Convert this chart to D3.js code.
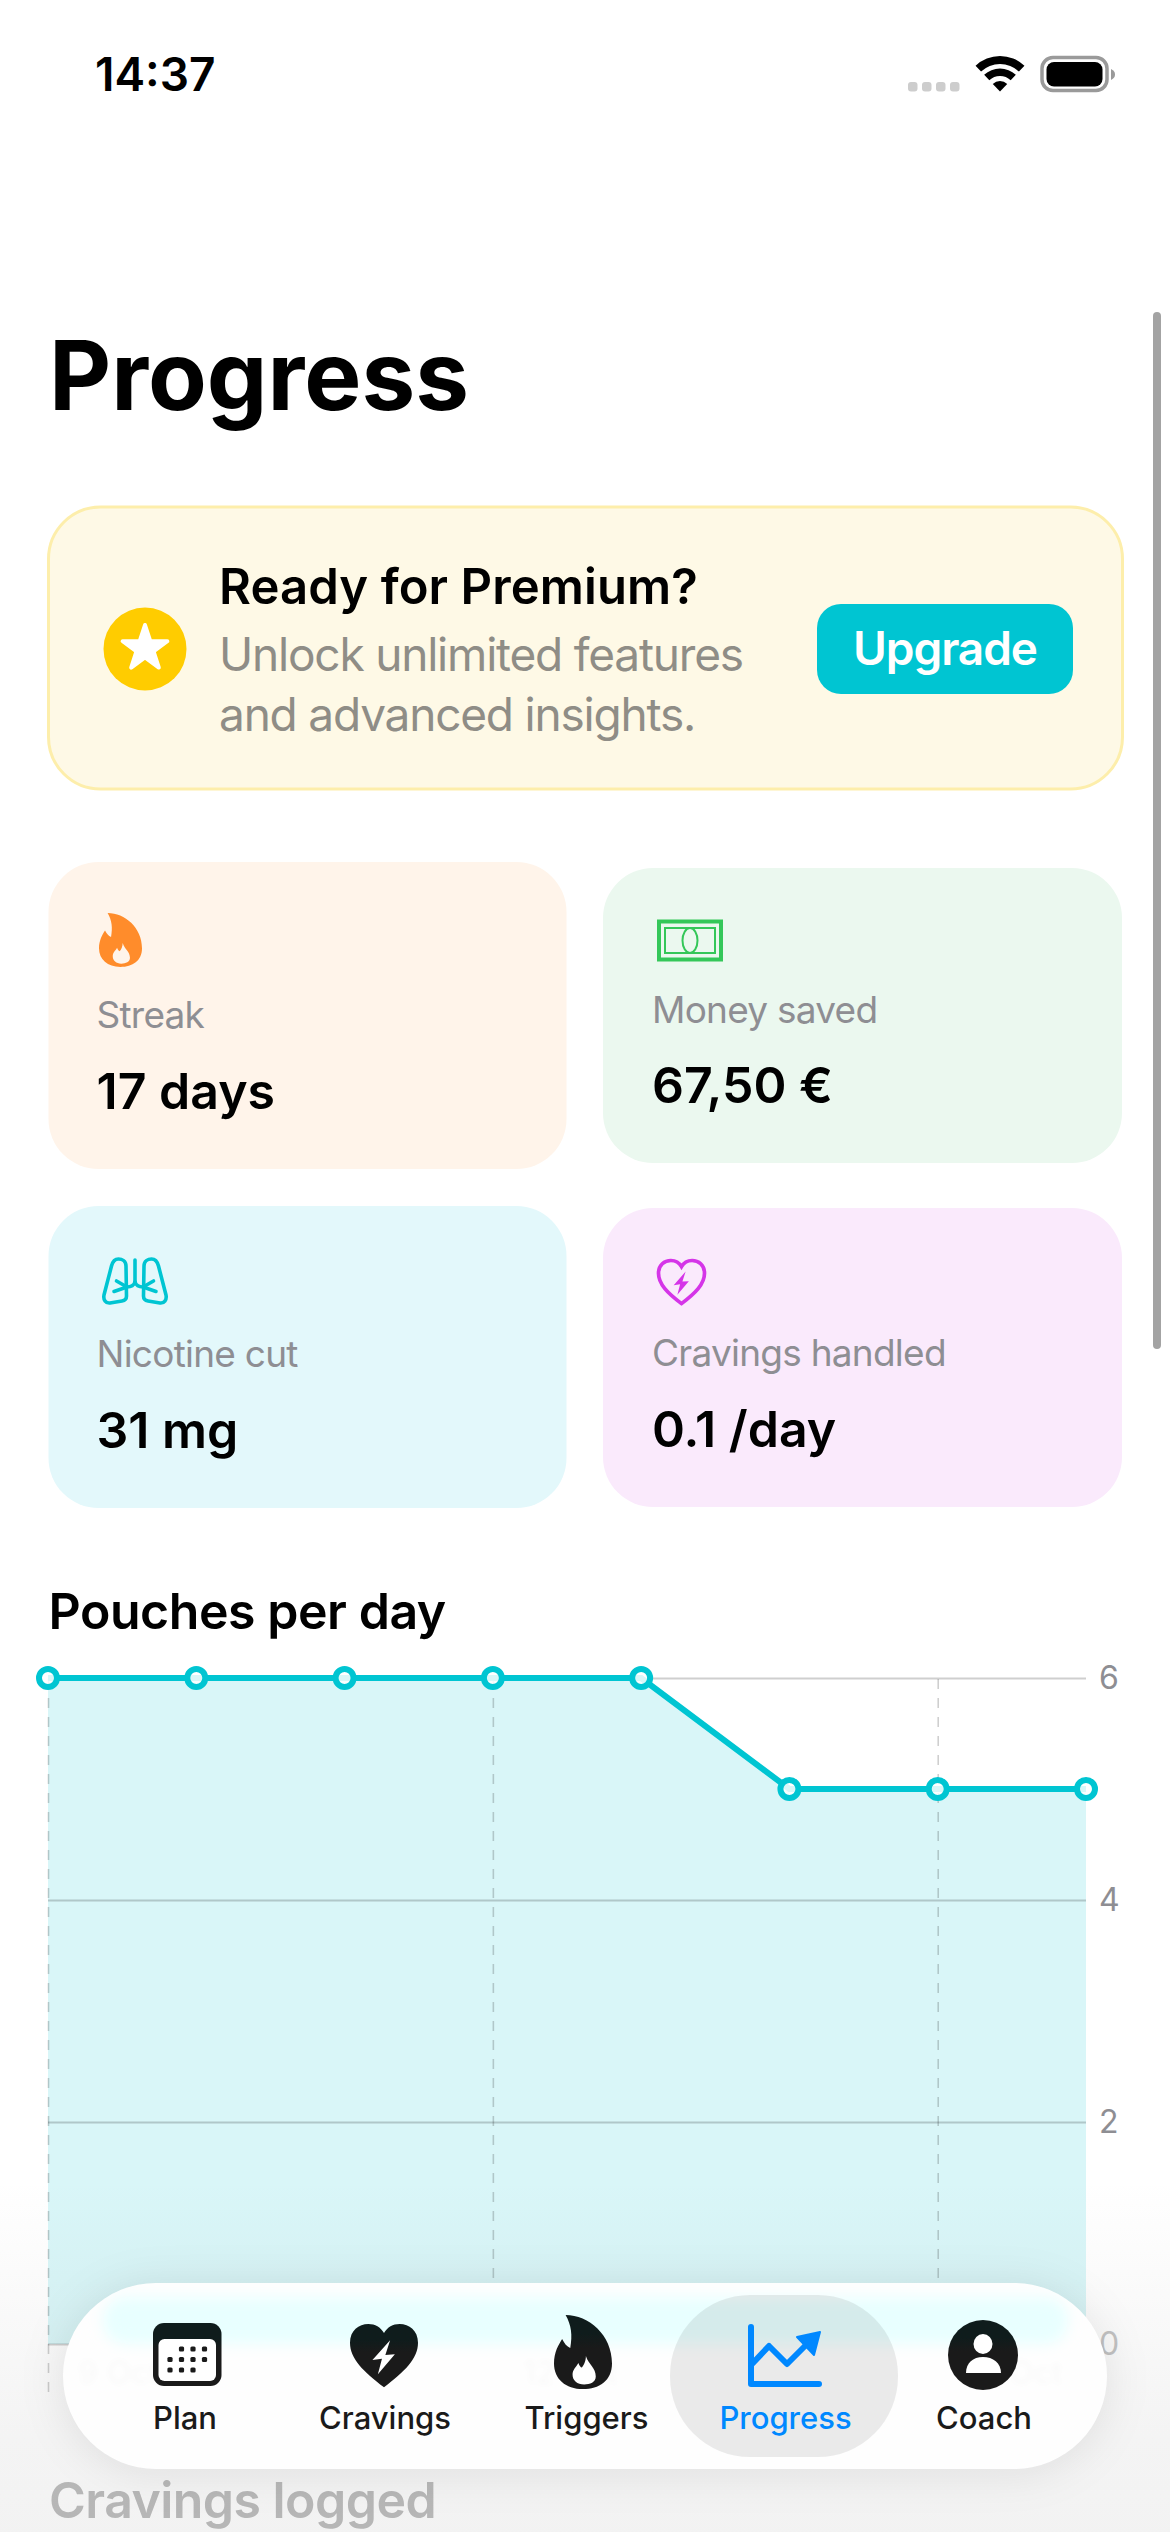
<!DOCTYPE html>
<html>
<head>
<meta charset="utf-8">
<title>Progress</title>
<script src="https://cdn.jsdelivr.net/npm/d3@7"></script>
<style>
  html, body { margin: 0; padding: 0; background: #fff; }
  svg { display: block; }
  text { font-family: Inter, "Noto Sans", sans-serif; }
</style>
</head>
<body>
<script>
// chart data
var days = [0, 1, 2, 3, 4, 5, 6, 7];
var pouches = [6, 6, 6, 6, 6, 5, 5, 5];
var yTicks = [0, 2, 4, 6];
var xTicks = [0, 3, 6];
var xTickLabels = ["9 Oct", "12 Oct", "15 Oct"];

var statLabels = ["Streak", "Money saved", "Nicotine cut", "Cravings handled"];
var statValues = ["17 days", "67,50 €", "31 mg", "0.1 /day"];
var tabLabels = ["Plan", "Cravings", "Triggers", "Progress", "Coach"];

var w = 1170;
var h = 2532;
var teal = "#00c5d2";
var grey = "#8e8e93";

var svg = d3.select("body").append("svg")
  .attr("width", w)
  .attr("height", h)
  .attr("viewBox", "0 0 " + w + " " + h);

var defs = svg.append("defs");

function label(parent, str, x, y, size, weight, fill, anchor) {
  return parent.append("text")
    .text(str)
    .attr("x", x)
    .attr("y", y)
    .attr("font-size", size)
    .attr("font-weight", weight)
    .attr("fill", fill)
    .attr("text-anchor", anchor || "start");
}

function blur(id, dev) {
  defs.append("filter")
    .attr("id", id)
    .attr("x", "-30%").attr("y", "-60%")
    .attr("width", "160%").attr("height", "220%")
    .append("feGaussianBlur")
    .attr("stdDeviation", dev);
}
blur("soft", 7);
blur("wash", 3);
blur("shadow", 22);

// status bar
label(svg, "14:37", 95, 91, 46, 600, "#000");
svg.selectAll(".signal").data([0, 1, 2, 3]).enter().append("rect")
  .attr("class", "signal")
  .attr("x", function(d) { return 908 + d * 14; })
  .attr("y", 82)
  .attr("width", 9.5)
  .attr("height", 9.5)
  .attr("rx", 3)
  .attr("fill", "#cdcdcd");

var wifi = svg.append("g").attr("transform", "translate(1000,91.5)");
[[0, 10.5], [15.5, 23], [27.5, 35.5]].forEach(function(r) {
  wifi.append("path")
    .attr("d", d3.arc().innerRadius(r[0]).outerRadius(r[1]).startAngle(-0.76).endAngle(0.76)())
    .attr("fill", "#000");
});

svg.append("rect").attr("x", 1042).attr("y", 57.5).attr("width", 65).attr("height", 33)
  .attr("rx", 11).attr("fill", "none").attr("stroke", "#9a9a9a").attr("stroke-width", 3.5);
svg.append("rect").attr("x", 1046.5).attr("y", 62).attr("width", 56).attr("height", 24.5)
  .attr("rx", 7.5).attr("fill", "#000");
svg.append("path").attr("d", "M1111 69 C1114 71 1115 72 1115 74.5 C1115 77 1114 78 1111 80 Z").attr("fill", "#9a9a9a");

// scroll indicator
svg.append("rect").attr("x", 1153).attr("y", 312).attr("width", 8).attr("height", 1037)
  .attr("rx", 4).attr("fill", "#a3a3a3");

label(svg, "Progress", 49, 410, 96, 700, "#000");

// premium banner
svg.append("rect").attr("x", 48.5).attr("y", 507).attr("width", 1074).attr("height", 282)
  .attr("rx", 52).attr("fill", "#fef9e6").attr("stroke", "#fdeeab").attr("stroke-width", 3);
svg.append("circle").attr("cx", 145).attr("cy", 649).attr("r", 41.5).attr("fill", "#ffcc00");
svg.append("path")
  .attr("d", d3.symbol().type(d3.symbolStar).size(620)())
  .attr("transform", "translate(145,648.5)")
  .attr("fill", "#fff").attr("stroke", "#fff").attr("stroke-width", 4).attr("stroke-linejoin", "round");
label(svg, "Ready for Premium?", 219, 604, 49, 600, "#000").attr("letter-spacing", 0.1);
label(svg, "Unlock unlimited features", 219, 671, 46, 400, "#8f8d86").attr("letter-spacing", -1.2);
label(svg, "and advanced insights.", 219, 731, 46, 400, "#8f8d86").attr("letter-spacing", -1.2);
svg.append("rect").attr("x", 817).attr("y", 604).attr("width", 256).attr("height", 90)
  .attr("rx", 24).attr("fill", "#00c5d2");
label(svg, "Upgrade", 945, 665, 46, 600, "#fff", "middle").attr("letter-spacing", -1.1);

// stat cards
var cardBoxes = [
  { x: 48.5, y: 862, w: 518, h: 307, fill: "#fff4ea" },
  { x: 603, y: 868, w: 519, h: 295, fill: "#ebf8ef" },
  { x: 48.5, y: 1206, w: 518, h: 302, fill: "#e3f8fb" },
  { x: 603, y: 1208, w: 519, h: 299, fill: "#faeafc" }
];
var labelBase = [1028, 1023, 1367, 1366];
var valueBase = [1109, 1103, 1448, 1447];

cardBoxes.forEach(function(c, i) {
  svg.append("rect").attr("x", c.x).attr("y", c.y).attr("width", c.w).attr("height", c.h)
    .attr("rx", 50).attr("fill", c.fill);
  var tx = i % 2 === 0 ? 96.5 : 652;
  label(svg, statLabels[i], tx, labelBase[i], 37, 400, grey).attr("letter-spacing", -0.75);
  label(svg, statValues[i], tx, valueBase[i], 50, 600, "#000");
});

// icon outlines, drawn in a 100 wide box
var flameOuter = "M20 0 C60 0 100 35 100 85 C100 115 78 130 50 130 C20 130 0 112 0 85 C0 65 8 52 14 42 C18 50 22 55 28 58 C32 35 30 18 20 0 Z";
var flameInner = "M55 72 C60 88 72 92 72 108 C72 118 62 122 52 122 C40 122 32 115 32 105 C32 95 38 92 42 84 C44 89 46 92 48 92 C52 88 55 80 55 72 Z";
var heart = "M50 98 C20 74 0 54 0 29 C0 10 13 0 27 0 C37 0 45 5 50 14 C55 5 63 0 73 0 C87 0 100 10 100 29 C100 54 80 74 50 98 Z";
var bolt = "M59 25 L33 56 L47 54 L41 78 L66 47 L52 48 Z";

var streakIcon = svg.append("g").attr("transform", "translate(99,913) scale(0.43,0.415)");
streakIcon.append("path").attr("d", flameOuter).attr("fill", "#ff8c2b");
streakIcon.append("path").attr("d", flameInner).attr("fill", "#fff4ea");

var money = svg.append("g").attr("fill", "none").attr("stroke", "#34c759");
money.append("rect").attr("x", 659).attr("y", 921.5).attr("width", 62).attr("height", 38).attr("stroke-width", 4);
money.append("rect").attr("x", 665).attr("y", 928).attr("width", 50).attr("height", 25).attr("stroke-width", 2);
money.append("ellipse").attr("cx", 690).attr("cy", 940.5).attr("rx", 7.5).attr("ry", 12.5).attr("stroke-width", 2);

var lungs = svg.append("g").attr("fill", "none").attr("stroke", "#00c5d2").attr("stroke-width", 3.6)
  .attr("stroke-linecap", "round").attr("stroke-linejoin", "round");
var lung = "M126 1266 C126 1261 122 1259 118.5 1259 C114.5 1259 112.5 1262 111.5 1266 L104 1295 C103 1300 106 1303.5 110 1303 L122 1301 C125 1300.5 126.5 1299 126.5 1296 Z";
var bronchi = "M135 1282 C134 1285 131 1287 127 1287 L114 1291.5 M127 1287 L116.5 1281";
lungs.append("path").attr("d", "M135 1260 L135 1282");
[lung, bronchi].forEach(function(p) {
  lungs.append("path").attr("d", p);
  lungs.append("path").attr("d", p).attr("transform", "translate(270,0) scale(-1,1)");
});

var cravingIcon = svg.append("g").attr("transform", "translate(658.5,1260.5) scale(0.46,0.44)");
cravingIcon.append("path").attr("d", heart).attr("fill", "none").attr("stroke", "#d535e8").attr("stroke-width", 8);
cravingIcon.append("path").attr("d", bolt).attr("fill", "#d535e8");

// pouches per day chart
label(svg, "Pouches per day", 48.5, 1629, 50, 600, "#000").attr("letter-spacing", -0.45);

var x = d3.scaleLinear().domain([0, 7]).range([48, 1086]);
var y = d3.scaleLinear().domain([0, 6]).range([2344, 1678]);
var chartData = days.map(function(d, i) { return { day: d, value: pouches[i] }; });

svg.append("path")
  .datum(chartData)
  .attr("d", d3.area()
    .x(function(d) { return x(d.day); })
    .y0(y(0))
    .y1(function(d) { return y(d.value); }))
  .attr("fill", teal)
  .attr("fill-opacity", 0.15);

// horizontal grid and value labels on the right
var yAxis = svg.append("g")
  .attr("transform", "translate(1086,0)")
  .call(d3.axisRight(y).tickValues(yTicks).tickSize(-1038).tickPadding(13).tickFormat(d3.format("d")));
yAxis.select(".domain").remove();
yAxis.selectAll("line").attr("stroke", "#000").attr("stroke-opacity", 0.19).attr("stroke-width", 2);
yAxis.selectAll("text").attr("font-size", 32).attr("font-family", "Inter").attr("fill", grey);
yAxis.selectAll(".tick").filter(function(d) { return d === 0; }).select("text").attr("fill", "#c4c4c4");

// dashed day grid, runs on below the baseline
var xAxis = svg.append("g")
  .attr("transform", "translate(0,2392)")
  .call(d3.axisBottom(x).tickValues(xTicks).tickSize(-714).tickFormat(""));
xAxis.select(".domain").remove();
xAxis.selectAll("line").attr("stroke", "#000").attr("stroke-opacity", 0.19)
  .attr("stroke-width", 1.6).attr("stroke-dasharray", "10 9");

svg.append("path")
  .datum(chartData)
  .attr("d", d3.line()
    .x(function(d) { return x(d.day); })
    .y(function(d) { return y(d.value); }))
  .attr("fill", "none")
  .attr("stroke", teal)
  .attr("stroke-width", 6);

svg.selectAll(".dot")
  .data(chartData)
  .enter()
  .append("circle")
  .attr("class", "dot")
  .attr("cx", function(d) { return x(d.day); })
  .attr("cy", function(d) { return y(d.value); })
  .attr("r", 9)
  .attr("fill", "#fff")
  .attr("fill-opacity", 0.85)
  .attr("stroke", teal)
  .attr("stroke-width", 6);

label(svg, "Cravings logged", 49, 2518, 50, 600, "#bcbcbc").attr("letter-spacing", -0.55);

// fade under the floating tab bar
var fade = defs.append("linearGradient").attr("id", "fade")
  .attr("x1", 0).attr("x2", 0).attr("y1", 0).attr("y2", 1);
fade.append("stop").attr("offset", 0).attr("stop-color", "#808080").attr("stop-opacity", 0);
fade.append("stop").attr("offset", 0.7).attr("stop-color", "#808080").attr("stop-opacity", 0.085);
fade.append("stop").attr("offset", 1).attr("stop-color", "#808080").attr("stop-opacity", 0.1);
svg.append("rect").attr("x", 0).attr("y", 2180).attr("width", w).attr("height", 352).attr("fill", "url(#fade)");

// tab bar
svg.append("rect").attr("x", 63).attr("y", 2286).attr("width", 1044).attr("height", 186)
  .attr("rx", 93).attr("fill", "#000").attr("fill-opacity", 0.09).attr("filter", "url(#shadow)");
svg.append("rect").attr("x", 63).attr("y", 2283).attr("width", 1044).attr("height", 186)
  .attr("rx", 93).attr("fill", "#fefefe");

defs.append("clipPath").attr("id", "barClip").append("rect")
  .attr("x", 63).attr("y", 2283).attr("width", 1044).attr("height", 186).attr("rx", 93);
var bar = svg.append("g").attr("clip-path", "url(#barClip)");
bar.append("rect").attr("x", 103).attr("y", 2297).attr("width", 965).attr("height", 47)
  .attr("rx", 22).attr("fill", "#e8ffff").attr("filter", "url(#soft)");

// the axis dates only show as a smudge through the glass
var tickLabelGroup = bar.append("g").attr("filter", "url(#wash)").attr("opacity", 0.025);
xTicks.forEach(function(t, i) {
  label(tickLabelGroup, xTickLabels[i], x(t) + 30, 2384, 32, 400, "#000");
});

// selected tab
svg.append("rect").attr("x", 670).attr("y", 2295).attr("width", 228).attr("height", 162)
  .attr("rx", 80).attr("fill", "#000").attr("fill-opacity", 0.078);

// dark icons pick up a tint where the chart sits behind the bar
var iconFill = defs.append("linearGradient").attr("id", "iconFill")
  .attr("x1", 0).attr("x2", 0).attr("y1", 0).attr("y2", 1);
iconFill.append("stop").attr("offset", 0.25).attr("stop-color", "#0f1c1c");
iconFill.append("stop").attr("offset", 0.45).attr("stop-color", "#1a1a1a");

var tabX = [185, 385, 586.5, 785.5, 984];
tabLabels.forEach(function(t, i) {
  label(svg, t, tabX[i], 2429, 31, 500, i === 3 ? "#0088ff" : "#1a1a1a", "middle");
});

// plan icon
svg.append("rect").attr("x", 153).attr("y", 2323).attr("width", 68.5).attr("height", 63)
  .attr("rx", 11).attr("fill", "url(#iconFill)");
svg.append("rect").attr("x", 158.5).attr("y", 2339).attr("width", 57.5).attr("height", 42)
  .attr("rx", 6).attr("fill", "#fff");
var calDots = [[181.5, 2349], [193, 2349], [204.5, 2349],
  [170, 2359.5], [181.5, 2359.5], [193, 2359.5], [204.5, 2359.5],
  [170, 2370], [181.5, 2370], [193, 2370]];
calDots.forEach(function(p) {
  svg.append("rect").attr("x", p[0] - 2.6).attr("y", p[1] - 2.6).attr("width", 5.2).attr("height", 5.2)
    .attr("rx", 1.5).attr("fill", "#1a1a1a");
});

// cravings icon
var cravingTab = svg.append("g").attr("transform", "translate(350,2324) scale(0.68,0.645)");
cravingTab.append("path").attr("d", heart).attr("fill", "url(#iconFill)");
cravingTab.append("path").attr("d", bolt).attr("fill", "#fff");

// triggers icon
var triggerTab = svg.append("g").attr("transform", "translate(554,2315) scale(0.58,0.57)");
triggerTab.append("path").attr("d", flameOuter).attr("fill", "url(#iconFill)");
triggerTab.append("path").attr("d", flameInner).attr("fill", "#fff");

// progress icon
svg.append("path")
  .attr("d", "M751 2327 L751 2384 L819 2384")
  .attr("fill", "none").attr("stroke", "#0088ff").attr("stroke-width", 6)
  .attr("stroke-linecap", "round").attr("stroke-linejoin", "round");
svg.append("path")
  .attr("d", "M752 2364 L769 2346 L787 2364 L806 2345")
  .attr("fill", "none").attr("stroke", "#0088ff").attr("stroke-width", 6)
  .attr("stroke-linejoin", "round");
svg.append("path")
  .attr("d", "M797 2337 L820 2332 L814 2355 Z")
  .attr("fill", "#0088ff").attr("stroke", "#0088ff").attr("stroke-width", 2).attr("stroke-linejoin", "round");

// coach icon
svg.append("circle").attr("cx", 983).attr("cy", 2355).attr("r", 35).attr("fill", "url(#iconFill)");
svg.append("ellipse").attr("cx", 983).attr("cy", 2344).attr("rx", 9.5).attr("ry", 10).attr("fill", "#fff");
svg.append("path").attr("d", "M966 2373 C966 2363 973 2357 983 2357 C993 2357 1001 2363 1001 2373 Z").attr("fill", "#fff");
</script>
</body>
</html>
